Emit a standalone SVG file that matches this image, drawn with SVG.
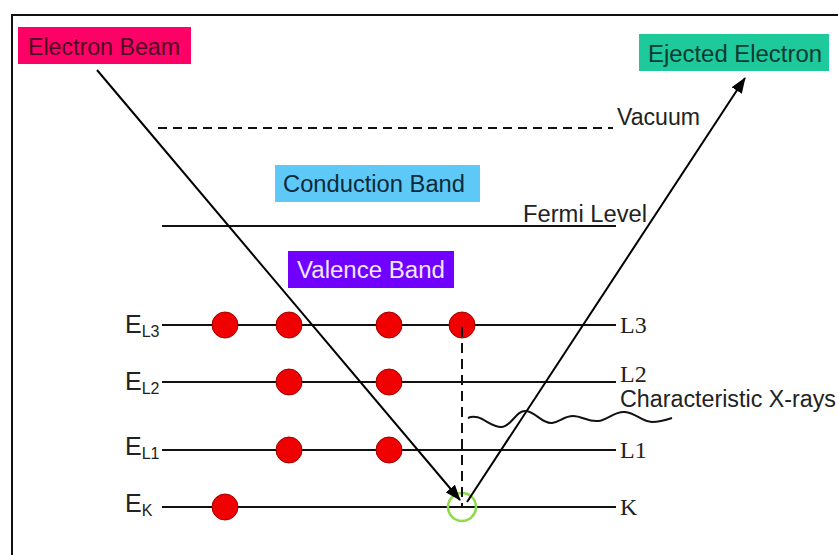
<svg xmlns="http://www.w3.org/2000/svg" width="838" height="555" viewBox="0 0 838 555">
<defs>
<marker id="ah" markerWidth="16" markerHeight="12" viewBox="0 0 16 12" refX="15" refY="6" orient="auto" markerUnits="userSpaceOnUse">
<path d="M0,0 L16,6 L0,12 z" fill="#000"/>
</marker>
<style>
.lbl{font-family:"Liberation Sans",Arial,sans-serif;font-size:23px;}
.big{font-family:"Liberation Sans",Arial,sans-serif;font-size:25px;fill:#222;}
.ser{font-family:"Liberation Serif","Times New Roman",serif;font-size:24px;fill:#222;}
.lvl{stroke:#111;stroke-width:2.2;fill:none;}
.e{fill:#f00000;stroke:#a00000;stroke-width:1;}
.sub{font-size:16px;}
</style>
</defs>
<rect width="838" height="555" fill="#fff"/>
<path d="M12,555 L12,15 L838,15" fill="none" stroke="#111" stroke-width="2"/>

<g id="levels">
<line class="lvl" x1="158" y1="128" x2="613" y2="128" stroke-dasharray="9,6"/>
<line class="lvl" x1="162" y1="226" x2="616" y2="226"/>
<line class="lvl" x1="162" y1="325" x2="616" y2="325"/>
<line class="lvl" x1="162" y1="382" x2="616" y2="382"/>
<line class="lvl" x1="162" y1="450" x2="616" y2="450"/>
<line class="lvl" x1="162" y1="507" x2="616" y2="507"/>
</g>

<g id="level-labels">
<text class="lbl" x="617" y="125" fill="#222" textLength="83" lengthAdjust="spacingAndGlyphs">Vacuum</text>
<text class="lbl" x="523" y="222" fill="#222" textLength="124" lengthAdjust="spacingAndGlyphs">Fermi Level</text>
<text class="big" x="125" y="333">E<tspan class="sub" dy="4">L3</tspan></text>
<text class="big" x="125" y="390">E<tspan class="sub" dy="4">L2</tspan></text>
<text class="big" x="125" y="455">E<tspan class="sub" dy="4">L1</tspan></text>
<text class="big" x="125" y="512">E<tspan class="sub" dy="4">K</tspan></text>
<text class="ser" x="620" y="333">L3</text>
<text class="ser" x="620" y="382">L2</text>
<text class="ser" x="620" y="458">L1</text>
<text class="ser" x="620" y="515">K</text>
<text class="lbl" x="620" y="407" fill="#222" textLength="216" lengthAdjust="spacingAndGlyphs">Characteristic X-rays</text>
</g>

<g id="electron-beam">
<rect x="18" y="27" width="173" height="37" fill="#ff0066"/>
<text class="lbl" x="28" y="55" fill="#4a0a24" textLength="152" lengthAdjust="spacingAndGlyphs">Electron Beam</text>
</g>
<g id="ejected-electron">
<rect x="639" y="34" width="190" height="37" fill="#1ec99b"/>
<text class="lbl" x="648" y="62" fill="#0d3b30" textLength="174" lengthAdjust="spacingAndGlyphs">Ejected Electron</text>
</g>
<g id="conduction-band">
<rect x="275" y="165" width="205" height="37" fill="#5ec8f7"/>
<text class="lbl" x="283" y="192" fill="#0d2a3a" textLength="182" lengthAdjust="spacingAndGlyphs">Conduction Band</text>
</g>
<g id="valence-band">
<rect x="288" y="251" width="166" height="37" fill="#7000ff"/>
<text class="lbl" x="297" y="278" fill="#f2e6ff" textLength="148" lengthAdjust="spacingAndGlyphs">Valence Band</text>
</g>

<g id="electrons">
<circle class="e" cx="225" cy="325" r="13"/>
<circle class="e" cx="289" cy="325" r="13"/>
<circle class="e" cx="389" cy="325" r="13"/>
<circle class="e" cx="462" cy="325" r="13"/>
<circle class="e" cx="289" cy="382" r="13"/>
<circle class="e" cx="389" cy="382" r="13"/>
<circle class="e" cx="289" cy="450" r="13"/>
<circle class="e" cx="389" cy="450" r="13"/>
<circle class="e" cx="225" cy="507" r="13"/>
</g>
<g id="vacancy">
<circle cx="462" cy="507" r="14" fill="none" stroke="#8fdc4a" stroke-width="2.5"/>
</g>

<g id="connectors">
<line x1="462" y1="327" x2="462" y2="507" stroke="#111" stroke-width="2" stroke-dasharray="10,6"/>
<line x1="97" y1="70" x2="460" y2="500" stroke="#000" stroke-width="2" marker-end="url(#ah)"/>
<line x1="467" y1="502" x2="745" y2="78" stroke="#000" stroke-width="2" marker-end="url(#ah)"/>
<path d="M468,418 C480,412 490,428 502,427 C512,426 516,410 526,411 C536,412 542,424 552,423 C560,422 564,416 573,416 C582,416 588,422 598,421 C608,420 614,411 625,412 C636,413 642,422 652,422 C660,422 666,420 672,418" fill="none" stroke="#111" stroke-width="2"/>
</g>
</svg>
